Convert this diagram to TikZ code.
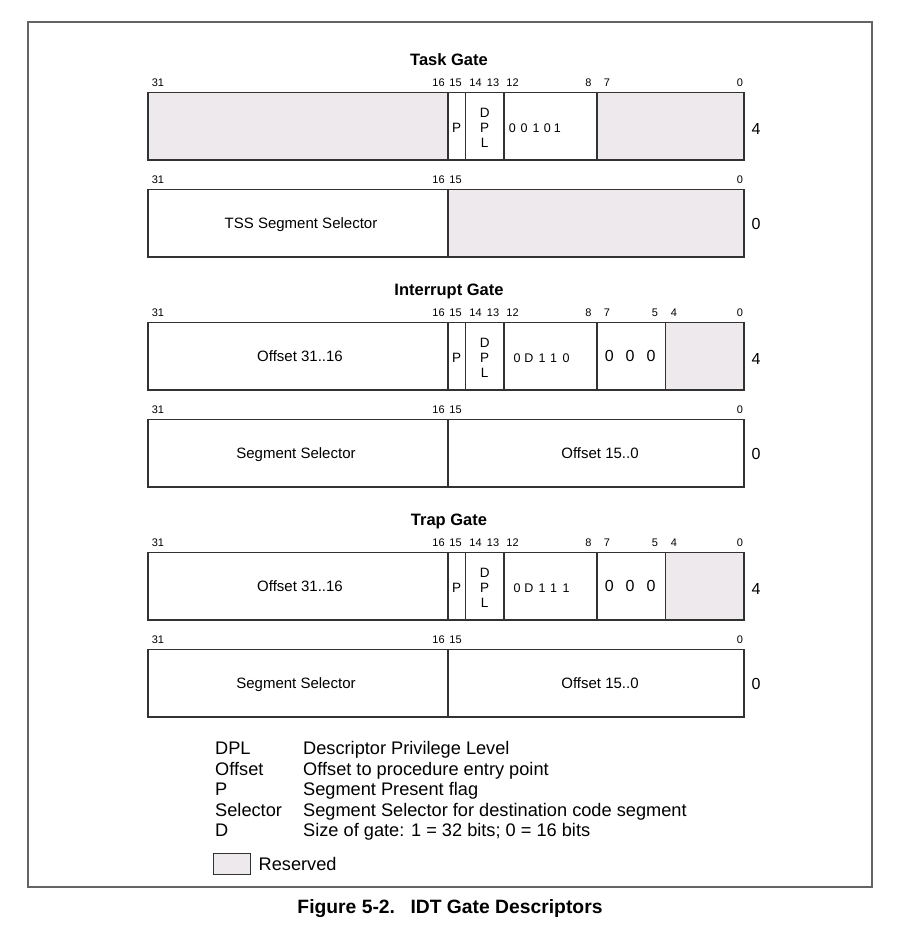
\documentclass[tikz,border=0pt]{standalone}
\usepackage{fontspec}
\setmainfont{Liberation Sans}
\usetikzlibrary{positioning}
\definecolor{rsvd}{RGB}{237,233,237}
\definecolor{edge}{RGB}{50,50,50}
\definecolor{framegray}{RGB}{100,100,100}
\newcommand{\fs}[1]{\fontsize{#1}{#1}\selectfont}

\begin{document}
\begin{tikzpicture}[x=1pt,y=-1pt,
		lbl/.style={inner sep=0pt,text depth=0pt,text height=#1},
		bitno/.style={lbl=7.9pt,font=\fs{11}},
		gatetitle/.style={lbl=11.8pt,font=\fs{16.5}\bfseries},
		fieldtxt/.style={lbl=10.8pt,font=\fs{15}},
		flag/.style={lbl=9.7pt,font=\fs{13.5}},
		typebit/.style={lbl=9pt,font=\fs{12.5}},
		bigno/.style={lbl=11.5pt,font=\fs{16}},
		keytxt/.style={lbl=13pt,font=\fs{18.2},anchor=west},
		wordbox/.style={draw=edge,line width=1.1pt}]
	\useasboundingbox (0,0) rectangle (905,935);
	\draw[framegray,line width=2pt] (28,22) rectangle (872,886.5);

	\fill[rsvd] (148,92.5) rectangle (448,160) (597,92.5) rectangle (744,160) (448,189.5) rectangle (744,257);
	\fill[rsvd] (665.5,322.5) rectangle (744,390) (665.5,552.5) rectangle (744,620);

	\foreach \s/\gname in {0/Task Gate,230/Interrupt Gate,460/Trap Gate}{
		\node[gatetitle] (title\s) at (449,60+\s) {\gname};
		\foreach \b/\x in {31/158,16/438.5,15/455.5,14/475.5,13/493,12/512.5,8/588.5,7/607,0/740}
			\node[bitno] (hi\b-\s) at (\x,83+\s) {\b};
		\foreach \b/\x in {31/158,16/438.5,15/455.5,0/740}
			\node[bitno] (lo\b-\s) at (\x,180+\s) {\b};
		\draw[wordbox] (148,92.5+\s) rectangle (744,160+\s) (148,189.5+\s) rectangle (744,257+\s);
		\draw[wordbox] \foreach \x in {448,465.5,504,597} {(\x,92.5+\s) -- (\x,160+\s)} (448,189.5+\s) -- (448,257+\s);
		\node[flag] (p\s) at (456.7,127.7+\s) {P};                 \node[flag] (dplp\s) at (484.7,127.7+\s) {P};
		\node[flag,above=4.8pt of dplp\s] (dpld\s) {D};            \node[flag,below=4.8pt of dplp\s] (dpll\s) {L};
		\node[bigno] (wd1-\s) at (756,128.5+\s) {4};               \node[bigno] (wd0-\s) at (756,223.5+\s) {0};
	}

	\foreach \d/\x [count=\i] in {0/512.3,0/524,1/536,0/547.3,1/557.3}
		\node[typebit] (ty\i-0) at (\x,128) {\d};
	\node[fieldtxt] (tss) at (301,223.5) {TSS Segment Selector};
	\foreach \s/\t in {230/0,460/1}{
		\node[bitno] (hi5-\s) at (655,83+\s) {5};                  \node[bitno] (hi4-\s) at (674,83+\s) {4};
		\draw[wordbox] (665.5,92.5+\s) -- (665.5,160+\s);
		\node[fieldtxt] (offhi\s) at (300,126+\s) {Offset 31..16};
		\foreach \d/\x [count=\i] in {0/517,D/529,1/542,1/553.5,\t/566}
			\node[typebit] (ty\i-\s) at (\x,128+\s) {\d};
		\foreach \x [count=\i] in {609.3,630,651}
			\node[bigno] (z\i-\s) at (\x,126+\s) {0};
		\node[fieldtxt] (sel\s) at (296,223.5+\s) {Segment Selector};
		\node[fieldtxt] (offlo\s) at (600,223.5+\s) {Offset 15..0};
	}

	\foreach \k/\v [count=\i] in {DPL/Descriptor Privilege Level,Offset/Offset to procedure entry point,P/Segment Present flag,Selector/Segment Selector for destination code segment,D/{Size of gate: 1 = 32 bits; 0 = 16 bits}}{
		\node[keytxt] (key\i) at (215,727.5+20.5*\i) {\k};
		\node[keytxt] (val\i) at (303,727.5+20.5*\i) {\v};
	}
	\node[draw=edge,fill=rsvd,line width=1pt,minimum width=37pt,minimum height=21pt,inner sep=0pt] (resbox) at (232,863.5) {};
	\node[keytxt,right=7.5pt of resbox] (restxt) {Reserved};

	\node[lbl=13.6pt,font=\fs{19.3}\bfseries] (caption) at (450,907) {Figure 5-2.\hspace{0.8em}IDT Gate Descriptors};
\end{tikzpicture}
\end{document}
